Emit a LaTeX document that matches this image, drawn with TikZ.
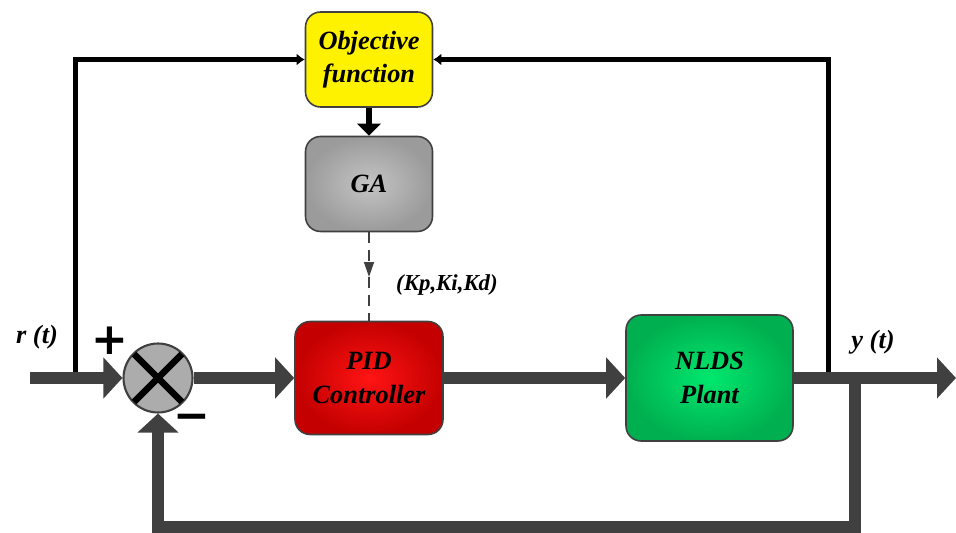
\documentclass[tikz,border=0pt]{standalone}
\usepackage{fontspec}
\setmainfont{Liberation Serif}
\newfontfamily\signfont{DejaVu Sans}
\usetikzlibrary{arrows.meta,positioning}
\definecolor{wire}{RGB}{64,64,64}
\definecolor{pidred}{RGB}{196,0,0}
\definecolor{pidlight}{RGB}{255,20,20}
\definecolor{plantgreen}{RGB}{0,176,80}
\definecolor{plantlight}{RGB}{0,232,110}
\definecolor{gadark}{RGB}{155,155,155}
\definecolor{galight}{RGB}{196,196,196}
\tikzstyle{block}=[draw=wire,line width=0.9pt,rounded corners=0.3cm,align=center,minimum width=2.54cm,minimum height=1.9cm,font=\fontsize{15}{19}\selectfont\bfseries\itshape]
\tikzstyle{sig}=[draw=wire,line width=0.24cm,-{Triangle[length=0.38cm,width=0.8cm]}]
\tikzstyle{tune}=[draw=black,line width=0.1cm,-{Latex[length=0.16cm,width=0.24cm]}]
\tikzstyle{gaindash}=[draw=wire,line width=0.8pt,dash pattern=on 0.22cm off 0.14cm]
\tikzstyle{lbl}=[font=\fontsize{15}{18}\selectfont\bfseries\itshape]
\tikzstyle{sign}=[font=\fontsize{25}{25}\selectfont\signfont\bfseries,inner sep=0pt]

\begin{document}
\begin{tikzpicture}[x=0.02cm,y=-0.02cm,node distance=2.49cm]
	\useasboundingbox (0,0) rectangle (956,533);
	% blocks
	\node[block,fill=yellow] (obj) at (369,59.5) {Objective\\function};
	\node[block,inner color=galight,outer color=gadark] (ga) [below of=obj] {GA};
	\node[block,inner color=pidlight,outer color=pidred,minimum width=2.96cm,minimum height=2.26cm] (pid) at (369,378) {PID\\Controller};
	\node[block,inner color=plantlight,outer color=plantgreen,minimum width=3.34cm,minimum height=2.52cm] (plant) at (709.5,378) {NLDS\\Plant};
	\node[circle,draw=wire,line width=1.2pt,fill=gray!65,minimum size=1.38cm,inner sep=0pt] (sum) at (158,378) {};
	\draw[line width=0.13cm,shorten <=1pt,shorten >=1pt] (sum.45) -- (sum.225);
	\draw[line width=0.13cm,shorten <=1pt,shorten >=1pt] (sum.135) -- (sum.315);
		\coordinate (rin) at (30,378);
		\coordinate (rtap) at (75,378);
		\coordinate (ytap) at (828,378);
		\coordinate (fbtap) at (855,378);
		\coordinate (yout) at (956,378);
		\coordinate (kmid) at (369,277);
	% tuning loop
	\draw[tune] (rtap) |- (obj.west);
	\draw[tune] (ytap) |- (obj.east);
	\draw[line width=0.12cm,-{Triangle[length=0.24cm,width=0.46cm]}] (obj) -- (ga);
	\draw[gaindash,-{Triangle[length=0.3cm,width=0.2cm]}] (ga.south) -- (kmid);
	\draw[gaindash] (kmid) -- (pid.north);
	% control loop
	\draw[sig] (rin) -- (sum.west);
	\draw[sig] (sum.east) -- (pid.west);
	\draw[sig] (pid.east) -- (plant.west);
	\draw[sig] (plant.east) -- (yout);
	\draw[sig] (fbtap) -- ++(0,149) -| (sum.south);
	% labels
	\node[lbl] (r) at (37,337) {r (t)};
	\node[lbl] (y) at (873,342) {y (t)};
	\node[font=\fontsize{13}{15}\selectfont\bfseries\itshape] (k) at (447,285) {(Kp,Ki,Kd)};
	\node[sign] (plus) at (110,341) {+};
	\node[sign] (minus) at (192,422) {−};
\end{tikzpicture}
\end{document}
